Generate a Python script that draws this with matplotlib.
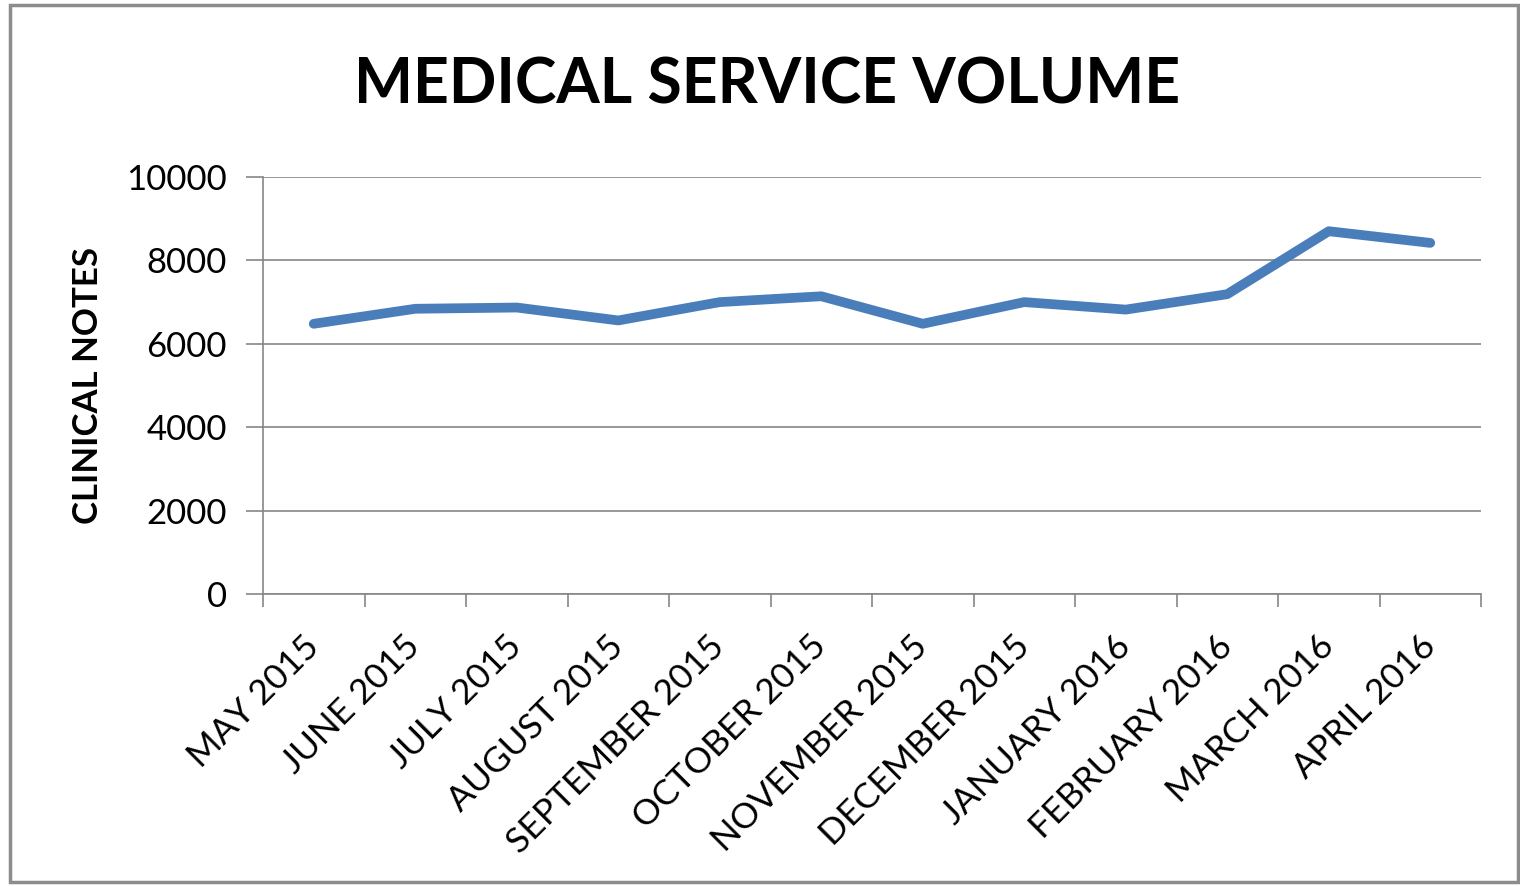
import matplotlib
matplotlib.use('Agg')
import matplotlib.pyplot as plt
from matplotlib.patches import Rectangle
import numpy as np

months = ['MAY 2015', 'JUNE 2015', 'JULY 2015', 'AUGUST 2015', 'SEPTEMBER 2015',
          'OCTOBER 2015', 'NOVEMBER 2015', 'DECEMBER 2015', 'JANUARY 2016',
          'FEBRUARY 2016', 'MARCH 2016', 'APRIL 2016']
notes = [6480, 6840, 6870, 6560, 7000, 7140, 6480, 7000, 6820, 7190, 8700, 8420]
yticks = [0, 2000, 4000, 6000, 8000, 10000]

plt.rcParams['font.family'] = ['Lato', 'DejaVu Sans']

fig = plt.figure(figsize=(15.2, 8.86), dpi=100)
W, H = 1520, 886
# plot area in pixels: x 263..1481, y 177..594
ax = fig.add_axes([263/W, 1 - 594/H, (1481-263)/W, (594-177)/H])

x = np.arange(len(months))
ax.plot(x, notes, color='#4A7EBB', lw=7, solid_capstyle='round', solid_joinstyle='round', zorder=3)

ax.set_xlim(-0.5, len(months) - 0.5)
ax.set_ylim(0, 10000)
ax.set_yticks(yticks)
ax.set_yticklabels([str(v) for v in yticks], fontsize=25)
ax.yaxis.grid(True, color='#868686', lw=1.2)
ax.set_axisbelow(True)

ax.set_xticks(x)
ax.set_xticklabels(months, fontsize=25.5, rotation=45, ha='right', va='center', rotation_mode='anchor')
ax.set_xticks(np.arange(-0.5, len(months)), minor=True)
ax.tick_params(axis='x', which='major', length=0, pad=34)
ax.tick_params(axis='x', which='minor', length=9, color='#868686', width=1.2)
ax.tick_params(axis='y', length=12, color='#868686', width=1.2, pad=14)

for s in ['top', 'right']:
    ax.spines[s].set_visible(False)
for s in ['left', 'bottom']:
    ax.spines[s].set_color('#868686')
    ax.spines[s].set_linewidth(1.2)

ax.set_ylabel('CLINICAL NOTES', fontsize=25, fontweight='bold', labelpad=16)
fig.text(767/W, 1 - 85/H, 'MEDICAL SERVICE VOLUME', fontsize=45, fontweight='bold',
         ha='center', va='center')

fig.patches.append(Rectangle((10/W, 4/H), 1 - 12/W, 1 - 9/H, transform=fig.transFigure,
                             fill=False, edgecolor='#8c8c8c', lw=2.5))

fig.savefig('out.png', dpi=100)
